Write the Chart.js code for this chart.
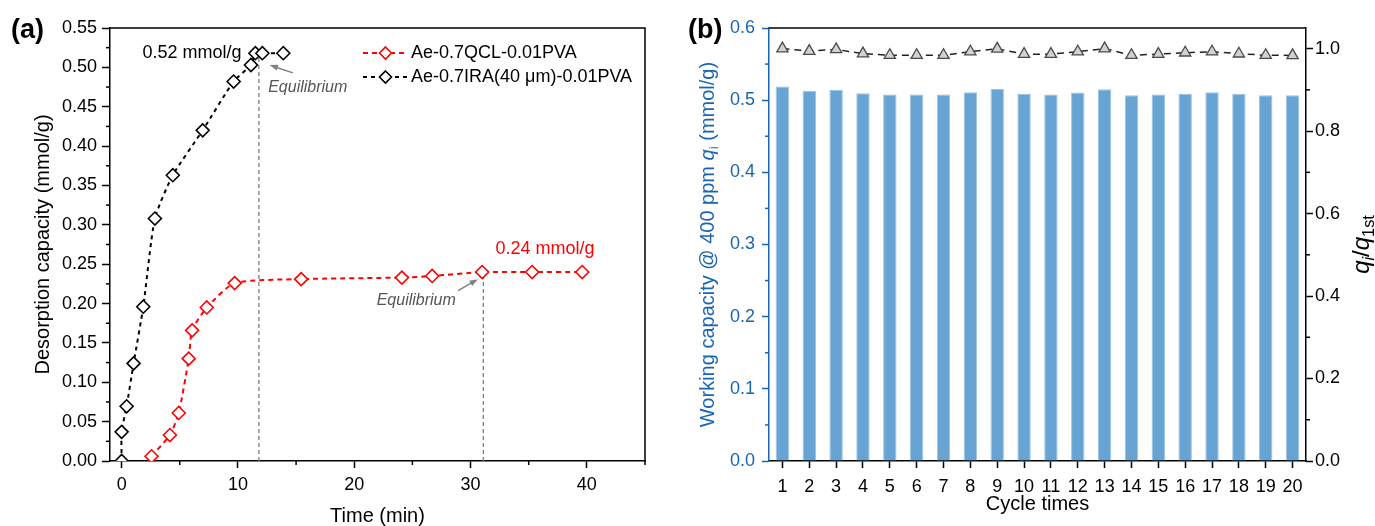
<!DOCTYPE html>
<html>
<head>
<meta charset="utf-8">
<script src="https://cdn.jsdelivr.net/npm/chart.js@4.4.1/dist/chart.umd.min.js"></script>
<style>
  html, body { margin: 0; padding: 0; background: #fff; }
  #wrap { position: relative; width: 1375px; height: 526px; }
  canvas { position: absolute; top: 0; }
  #chartA { left: 0; }
  #chartB { left: 680px; }
</style>
</head>
<body>
<div id="wrap">
  <canvas id="chartA" width="680" height="526"></canvas>
  <canvas id="chartB" width="695" height="526"></canvas>
</div>
<script>
// ---- panel (a) data ----
const timeIRA = [0, 0, 0.43, 1.03, 1.86, 2.86, 4.4, 6.97, 9.63, 11.12, 11.5, 12.1, 13.9];
const capIRA  = [0, 0.037, 0.0695, 0.124, 0.196, 0.308, 0.363, 0.42, 0.482, 0.503, 0.518, 0.518, 0.518];
const timeQCL = [2.57, 4.15, 4.91, 5.77, 6.06, 7.32, 9.72, 15.44, 24.1, 26.7, 31.0, 35.3, 39.6];
const capQCL  = [0.006, 0.033, 0.061, 0.130, 0.166, 0.195, 0.226, 0.231, 0.233, 0.235, 0.240, 0.240, 0.240];
const seriesNames = ["Ae-0.7QCL-0.01PVA", "Ae-0.7IRA(40 \u03bcm)-0.01PVA"];
const xTicksA = [0, 10, 20, 30, 40];
const yTicksA = [0, 0.05, 0.10, 0.15, 0.20, 0.25, 0.30, 0.35, 0.40, 0.45, 0.50, 0.55];
const guideTimes = [11.8, 31.1];
const guideTops = [0.517, 0.240];

// ---- panel (b) data ----
const cycles = ["1","2","3","4","5","6","7","8","9","10","11","12","13","14","15","16","17","18","19","20"];
const workCap = [0.519, 0.513, 0.5146, 0.5095, 0.508, 0.5077, 0.508, 0.511, 0.5155, 0.509,
                 0.508, 0.5105, 0.515, 0.5067, 0.508, 0.509, 0.511, 0.509, 0.5067, 0.5067];
const ratio = [1.0, 0.994, 0.998, 0.988, 0.984, 0.984, 0.984, 0.9925, 0.9995, 0.9866,
               0.9866, 0.9925, 1.0, 0.984, 0.9866, 0.990, 0.9925, 0.9876, 0.984, 0.9835];
const yTicksB = [0, 0.1, 0.2, 0.3, 0.4, 0.5, 0.6];
const y1TicksB = [0, 0.2, 0.4, 0.6, 0.8, 1.0];

const FAM = '"Liberation Sans", Arial, sans-serif';
const BLUE = '#1a64b4';
const midpoints = arr => arr.slice(1).map((v, i) => (v + arr[i]) / 2);

// minor ticks + frame + panel tag
const framePlugin = {
  id: 'frame',
  afterDraw(chart, args, opts) {
    const { ctx, chartArea: a, scales } = chart;
    ctx.save();
    ctx.lineWidth = 1.5;
    (opts.minor || []).forEach(m => {
      const s = scales[m.axis];
      ctx.strokeStyle = m.color || '#000';
      m.values.forEach(v => {
        const p = s.getPixelForValue(v);
        ctx.beginPath();
        if (m.side === 'bottom') { ctx.moveTo(p, a.bottom); ctx.lineTo(p, a.bottom + 4); }
        else if (m.side === 'left') { ctx.moveTo(a.left, p); ctx.lineTo(a.left - 4, p); }
        else { ctx.moveTo(a.right, p); ctx.lineTo(a.right + 4, p); }
        ctx.stroke();
      });
    });
    ctx.strokeStyle = '#000';
    ctx.beginPath();
    ctx.moveTo(a.left, a.top); ctx.lineTo(a.right, a.top);
    if (opts.rightLine) ctx.lineTo(a.right, a.bottom);
    ctx.stroke();
    ctx.fillStyle = '#000';
    ctx.font = 'bold 27px ' + FAM;
    ctx.textBaseline = 'middle';
    ctx.fillText(opts.tag, opts.tagX, 31);
    ctx.restore();
  }
};

function arrow(ctx, x0, y0, x1, y1) {
  const ang = Math.atan2(y1 - y0, x1 - x0);
  ctx.beginPath(); ctx.moveTo(x0, y0);
  ctx.lineTo(x1 - 6 * Math.cos(ang), y1 - 6 * Math.sin(ang)); ctx.stroke();
  ctx.beginPath();
  ctx.moveTo(x1, y1);
  ctx.lineTo(x1 - 9 * Math.cos(ang - 0.35), y1 - 9 * Math.sin(ang - 0.35));
  ctx.lineTo(x1 - 9 * Math.cos(ang + 0.35), y1 - 9 * Math.sin(ang + 0.35));
  ctx.closePath(); ctx.fill();
}

const annotA = {
  id: 'annotA',
  beforeDatasetsDraw(chart) {
    const { ctx, scales: { x, y } } = chart;
    ctx.save();
    ctx.setLineDash([4, 3]);
    ctx.strokeStyle = '#808080';
    ctx.lineWidth = 1.3;
    guideTimes.forEach((t, i) => {
      ctx.beginPath();
      ctx.moveTo(x.getPixelForValue(t), y.getPixelForValue(0));
      ctx.lineTo(x.getPixelForValue(t), y.getPixelForValue(guideTops[i]));
      ctx.stroke();
    });
    ctx.restore();
  },
  afterDatasetsDraw(chart) {
    const { ctx, scales: { x, y } } = chart;
    const px = (t, v) => [x.getPixelForValue(t), y.getPixelForValue(v)];
    ctx.save();
    ctx.textBaseline = 'middle';
    ctx.font = '18px ' + FAM;
    ctx.fillStyle = '#000';
    ctx.fillText('0.52 mmol/g', ...px(1.8, 0.518));
    ctx.fillStyle = '#ff0000';
    ctx.fillText('0.24 mmol/g', ...px(32.14, 0.2694));
    ctx.font = 'italic 16px ' + FAM;
    ctx.fillStyle = '#555';
    ctx.fillText('Equilibrium', ...px(12.6, 0.474));
    ctx.fillText('Equilibrium', ...px(21.93, 0.2037));
    ctx.strokeStyle = '#808080'; ctx.fillStyle = '#808080'; ctx.lineWidth = 1.5;
    arrow(ctx, ...px(14.73, 0.493), ...px(12.72, 0.503));
    arrow(ctx, ...px(28.93, 0.2164), ...px(30.64, 0.2309));

    // legend
    const a = chart.chartArea;
    chart.data.datasets.forEach((ds, i) => {
      const ly = a.top + 25 + i * 24;
      const lx = a.right - 282;
      ctx.strokeStyle = ds.borderColor; ctx.lineWidth = 2;
      ctx.setLineDash(ds.borderDash);
      ctx.beginPath(); ctx.moveTo(lx, ly); ctx.lineTo(lx + 45, ly); ctx.stroke();
      ctx.setLineDash([]);
      ctx.fillStyle = '#fff'; ctx.lineWidth = 1.6;
      ctx.beginPath();
      ctx.moveTo(lx + 22.5, ly - 6); ctx.lineTo(lx + 28.5, ly);
      ctx.lineTo(lx + 22.5, ly + 6); ctx.lineTo(lx + 16.5, ly); ctx.closePath();
      ctx.fill(); ctx.stroke();
      ctx.fillStyle = '#000'; ctx.font = '18px ' + FAM;
      ctx.fillText(ds.label, lx + 48, ly);
    });
    ctx.restore();
  }
};

new Chart(document.getElementById('chartA'), {
  type: 'scatter',
  data: {
    datasets: [
      {
        label: seriesNames[0],
        data: timeQCL.map((t, i) => ({ x: t, y: capQCL[i] })),
        showLine: true, tension: 0.2,
        borderColor: '#ff0000', borderWidth: 2, borderDash: [5, 4],
        pointStyle: 'rectRot', pointRadius: 6.5, pointBorderWidth: 1.6,
        pointBackgroundColor: '#fff', pointBorderColor: '#ff0000'
      },
      {
        label: seriesNames[1],
        data: timeIRA.map((t, i) => ({ x: t, y: capIRA[i] })),
        showLine: true, tension: 0.2,
        borderColor: '#000', borderWidth: 2, borderDash: [4, 4],
        pointStyle: 'rectRot', pointRadius: 6.5, pointBorderWidth: 1.6,
        pointBackgroundColor: '#fff', pointBorderColor: '#000'
      }
    ]
  },
  options: {
    responsive: false, animation: false,
    layout: { padding: { left: 0, right: 35, top: 28, bottom: 0 } },
    plugins: {
      legend: { display: false }, tooltip: { enabled: false },
      frame: {
        tag: '(a)', tagX: 11, rightLine: true,
        minor: [
          { axis: 'x', side: 'bottom', values: midpoints(xTicksA.concat([50])) },
          { axis: 'y', side: 'left', values: midpoints(yTicksA) }
        ]
      }
    },
    scales: {
      x: {
        type: 'linear', min: -1, max: 45,
        afterBuildTicks: s => { s.ticks = xTicksA.map(v => ({ value: v })); },
        afterFit: s => { s.height = 65; },
        ticks: { color: '#000', font: { family: FAM, size: 18 }, padding: 6, callback: v => String(v) },
        grid: { drawOnChartArea: false, tickLength: 7, tickColor: '#000', tickWidth: 1.5 },
        border: { color: '#000', width: 1.5 },
        title: { display: true, text: 'Time (min)', color: '#000',
                 font: { family: FAM, size: 20, lineHeight: 1 }, padding: 0 }
      },
      y: {
        min: 0, max: 0.55,
        afterBuildTicks: s => { s.ticks = yTicksA.map(v => ({ value: v })); },
        afterFit: s => { s.width = 110; },
        ticks: { color: '#000', font: { family: FAM, size: 18 }, padding: 5, callback: v => v.toFixed(2) },
        grid: { drawOnChartArea: false, tickLength: 8, tickColor: '#000', tickWidth: 1.5 },
        border: { color: '#000', width: 1.5 },
        title: { display: true, text: 'Desorption capacity (mmol/g)', color: '#000',
                 font: { family: FAM, size: 20, lineHeight: 1.2 }, padding: { top: 31, bottom: 0 } }
      }
    }
  },
  plugins: [annotA, framePlugin]
});

// rich text (italic / subscript) for panel (b) axis titles
function drawRich(ctx, cx, cy, parts, color, size) {
  ctx.save();
  ctx.translate(cx, cy);
  ctx.rotate(-Math.PI / 2);
  ctx.fillStyle = color;
  ctx.textBaseline = 'middle';
  const fontOf = p => (p.it ? 'italic ' : '') + (p.sub ? size * 0.68 : size) + 'px ' + FAM;
  let total = 0;
  parts.forEach(p => { ctx.font = fontOf(p); total += ctx.measureText(p.t).width; });
  let x = -total / 2;
  parts.forEach(p => {
    ctx.font = fontOf(p);
    ctx.fillText(p.t, x, p.sub ? size * 0.3 : 0);
    x += ctx.measureText(p.t).width;
  });
  ctx.restore();
}

const titlesB = {
  id: 'titlesB',
  afterDraw(chart) {
    const { ctx, chartArea: a } = chart;
    const cy = (a.top + a.bottom) / 2;
    drawRich(ctx, 28, cy, [
      { t: 'Working capacity @ 400 ppm ' }, { t: 'q', it: true }, { t: 'i', sub: true }, { t: ' (mmol/g)' }
    ], BLUE, 20);
    drawRich(ctx, 682, cy, [
      { t: 'q', it: true }, { t: 'i', sub: true, it: true }, { t: '/' }, { t: 'q', it: true }, { t: '1st', sub: true }
    ], '#000', 24);
    ctx.save();
    ctx.fillStyle = '#000';
    ctx.font = '20px ' + FAM;
    ctx.textAlign = 'center';
    ctx.textBaseline = 'middle';
    ctx.fillText('Cycle times', (a.left + a.right) / 2, 504);
    ctx.restore();
  }
};

new Chart(document.getElementById('chartB'), {
  type: 'bar',
  data: {
    labels: cycles,
    datasets: [
      {
        type: 'line', data: ratio, yAxisID: 'y1',
        borderColor: '#222', borderWidth: 1.5, borderDash: [7, 5],
        pointStyle: 'triangle', pointRadius: 6.5, pointBorderWidth: 1.3,
        pointBackgroundColor: '#d2d2d2', pointBorderColor: '#4a4a4a'
      },
      {
        data: workCap, yAxisID: 'y',
        backgroundColor: '#67a4d3', borderColor: '#9cc4e4', borderWidth: 1,
        barPercentage: 0.5, categoryPercentage: 1.0
      }
    ]
  },
  options: {
    responsive: false, animation: false,
    layout: { padding: { left: 0, right: 0, top: 28, bottom: 0 } },
    plugins: {
      legend: { display: false }, tooltip: { enabled: false },
      frame: {
        tag: '(b)', tagX: 8, rightLine: false,
        minor: [
          { axis: 'y', side: 'left', values: midpoints(yTicksB), color: BLUE },
          { axis: 'y1', side: 'right', values: midpoints(y1TicksB) }
        ]
      }
    },
    scales: {
      x: {
        offset: true,
        afterFit: s => { s.height = 65; },
        ticks: { color: '#000', font: { family: FAM, size: 18 }, padding: 8, maxRotation: 0, autoSkip: false },
        grid: { offset: false, drawOnChartArea: false, tickLength: 7, tickColor: '#000', tickWidth: 1.5 },
        border: { color: '#000', width: 1.5 }
      },
      y: {
        position: 'left', min: 0, max: 0.6,
        afterBuildTicks: s => { s.ticks = yTicksB.map(v => ({ value: v })); },
        afterFit: s => { s.width = 89; },
        ticks: { color: BLUE, font: { family: FAM, size: 18 }, padding: 7, callback: v => v.toFixed(1) },
        grid: { drawOnChartArea: false, tickLength: 7, tickColor: BLUE, tickWidth: 1.5 },
        border: { color: BLUE, width: 1.5 }
      },
      y1: {
        position: 'right', min: 0, max: 1.05,
        afterBuildTicks: s => { s.ticks = y1TicksB.map(v => ({ value: v })); },
        afterFit: s => { s.width = 69; },
        ticks: { color: '#000', font: { family: FAM, size: 18 }, padding: 2, callback: v => v.toFixed(1) },
        grid: { drawOnChartArea: false, tickLength: 7, tickColor: '#000', tickWidth: 1.5 },
        border: { color: '#000', width: 1.5 }
      }
    }
  },
  plugins: [titlesB, framePlugin]
});
</script>
</body>
</html>
